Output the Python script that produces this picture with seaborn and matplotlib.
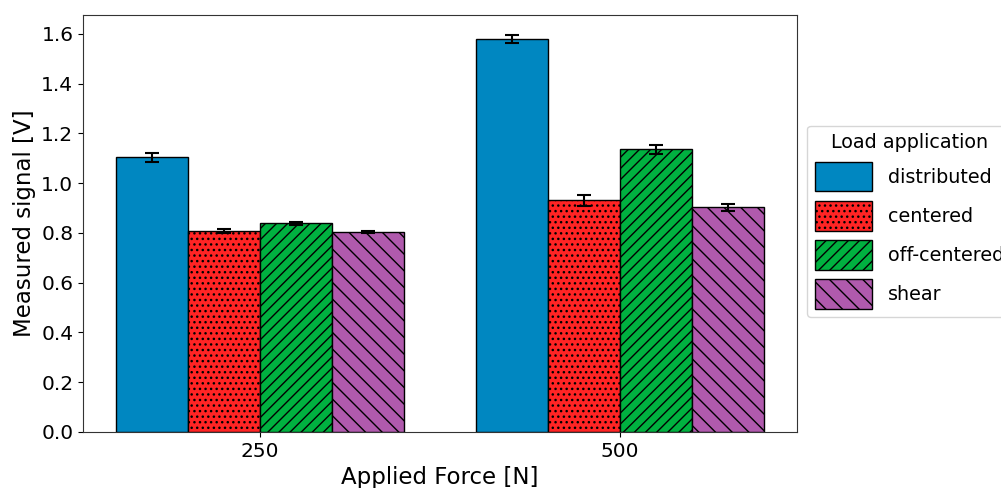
import pandas as pd
import matplotlib
matplotlib.use("Agg")
import matplotlib.pyplot as plt
import seaborn as sns
import numpy as np

sns.set_style('ticks')
plt.rcParams['font.family'] = ['DejaVu Sans']
plt.rcParams.update({
    'text.color': 'black', 'axes.labelcolor': 'black',
    'xtick.color': 'black', 'ytick.color': 'black',
    'xtick.major.size': 3.5, 'ytick.major.size': 3.5,
})

# data
forces = ["250", "500"]
loads = ["distributed", "centered", "off-centered", "shear"]
signal_250 = [1.103, 0.809, 0.838, 0.804]
signal_500 = [1.580, 0.930, 1.135, 0.902]
err_250 = [0.017, 0.008, 0.006, 0.004]
err_500 = [0.017, 0.021, 0.019, 0.014]

colors = ["#0087c1", "#ff2424", "#00b140", "#b05aad"]
hatches = ["", "...", "///", "\\\\"]

df = pd.DataFrame({
    "force": np.repeat(forces, len(loads)),
    "load": loads * len(forces),
    "signal": signal_250 + signal_500,
    "err": err_250 + err_500,
})

fig = plt.figure(figsize=(10.01, 4.88), dpi=100)
ax = fig.add_axes([0.083, 0.115, 0.713, 0.855])

sns.barplot(data=df, x="force", y="signal", hue="load", hue_order=loads,
            palette=colors, saturation=1, edgecolor="black", linewidth=1,
            errorbar=None, width=0.8, ax=ax, legend=False)

bar_groups = list(ax.containers)

# hatch + error bars per hue group
for i, cont in enumerate(bar_groups):
    sub = df[df["load"] == loads[i]]
    xs = []
    for bar in cont.patches:
        bar.set_hatch(hatches[i])
        xs.append(bar.get_x() + bar.get_width() / 2)
    ax.errorbar(xs, sub["signal"].values, yerr=sub["err"].values, fmt="none",
                ecolor="black", elinewidth=1.5, capsize=5, capthick=1.5)

for sp in ax.spines.values():
    sp.set_color("#333333")

ax.set_xlabel("Applied Force [N]", fontsize=16.5)
ax.set_ylabel("Measured signal [V]", fontsize=16.5)
ax.tick_params(labelsize=14.5)

handles = [c.patches[0] for c in bar_groups]
ax.legend(handles, loads, title="Load application", loc="center left",
          bbox_to_anchor=(1.001, 0.505), fontsize=13.8, title_fontsize=13.8,
          handlelength=3.0, handleheight=2.0, frameon=True)

fig.savefig("out.png", dpi=100)
